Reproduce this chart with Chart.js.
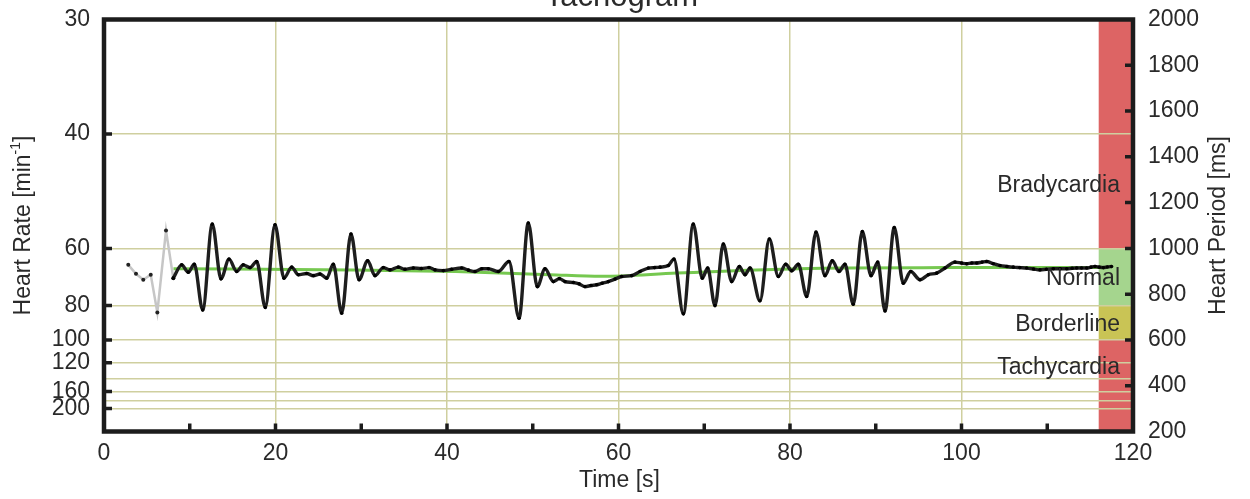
<!DOCTYPE html>
<html>
<head>
<meta charset="utf-8">
<script src="https://cdn.jsdelivr.net/npm/chart.js@4.4.1/dist/chart.umd.min.js"></script>
<style>
html,body{margin:0;padding:0;background:#ffffff;}
canvas{display:block;}
</style>
</head>
<body>
<canvas id="c" width="1250" height="499"></canvas>
<script>
// ---------- texts ----------
const titleText = 'Tachogram';
const xTitle = 'Time [s]';
const leftTitle = 'Heart Rate [min';
const leftTitleSup = '-1';
const rightTitle = 'Heart Period [ms]';

// ---------- data ----------
// first (grey) beats
const preTime   = [2.83, 3.73, 4.58, 5.45, 6.22, 7.23, 8.08];
const prePeriod = [928, 889, 863, 885, 720, 1078, 870];

// tachogram beats
const beatTime = [8.08,9.06,9.83,10.53,11.51,12.63,13.64,14.58,15.48,16.24,17.03,17.81,18.81,19.94,20.99,21.89,22.66,23.64,24.41,25.19,25.97,26.74,27.72,28.80,29.74,30.75,31.60,32.57,33.35,34.32,35.10,36.07,37.0,37.9,38.60,39.57,40.55,41.71,42.5,43.27,44.05,44.82,45.98,47.23,48.40,49.48,50.53,51.43,52.40,53.1,53.76,54.73,55.4,56.09,56.8,57.46,58.1,58.81,59.6,60.37,61.54,62.51,63.48,64.2,64.85,65.81,66.47,67.56,68.72,69.77,70.40,71.25,72.22,73.20,74.09,74.75,75.34,76.50,77.59,78.64,79.50,80.20,80.97,81.95,83.03,84.08,84.93,85.71,86.41,87.38,88.43,89.45,90.23,91.08,92.16,93.21,94.08,95.16,96.13,97.11,98.08,99.24,100.0,100.61,101.2,101.77,102.4,102.94,103.7,104.49,105.3,106.04,106.8,107.60,108.4,109.15,109.9,110.71,111.5,112.27,112.9,113.43,114.0,114.60,115.1,115.57,116.05,116.54,117.0,117.5];
const beatPeriod = [870,928,896,931,731,1106,867,953,899,928,916,943,742,1103,870,918,885,890,881,888,870,931,717,1063,863,946,881,916,906,918,909,914,912,916,906,903,909,914,905,899,911,911,899,943,695,1111,833,911,855,868,855,851,845,833,838,841,848,855,866,877,881,899,914,916,918,925,953,714,1106,870,914,750,1019,855,921,885,914,771,1041,877,931,902,931,790,1071,881,946,899,931,756,1074,881,940,727,1091,848,899,863,885,892,914,940,936,933,936,936,940,943,933,925,921,918,916,914,910,906,909,911,911,911,913,914,914,914,918,921,918,916,919,921];

// trend
const trendTime   = [8.1, 29, 41, 52, 58, 66.8, 75, 86.4, 98, 116];
const trendPeriod = [911, 906, 899, 885, 878, 892, 904, 914, 916, 917];

// ticks
const xTicks = [0, 20, 40, 60, 80, 100, 120];
const xMinorTicks = [10, 20, 30, 40, 50, 60, 70, 80, 90, 100, 110];
const hrLabels = [30, 40, 60, 80, 100, 120, 160, 200];
const hrGrid = [40, 60, 80, 100, 120, 140, 160, 180, 200];
const periodTicks = [200, 400, 600, 800, 1000, 1200, 1400, 1600, 1800, 2000];

// zones
const zoneNames = ['Bradycardia', 'Normal', 'Borderline', 'Tachycardia'];
const zoneFrom  = [1000, 750, 600, 200];
const zoneTo    = [2000, 1000, 750, 600];
const zoneStart = 116;
const zoneEnd   = 120;

// ---------- styles ----------
const FONT = "'Liberation Sans', Arial, Helvetica, sans-serif";
const TEXT = '#2a2a2a';
const GRID = '#cfcf9f';
const zoneColors = ['#dd6464', '#a5d58e', '#c9c455', '#dd6464'];
const zoneLabelMs = [1245, 838, 641, 452]; // label baselines (ms)

const pts = (xs, ys) => xs.map((x, i) => ({x: x, y: ys[i]}));

const zonesPlugin = {
  id: 'zones',
  beforeDraw(chart) {
    const {ctx} = chart;
    const xs = chart.scales.x, ys = chart.scales.yR;
    ctx.save();
    for (let i = 0; i < zoneNames.length; i++) {
      const x0 = xs.getPixelForValue(zoneStart), x1 = xs.getPixelForValue(zoneEnd);
      const y0 = ys.getPixelForValue(zoneTo[i]), y1 = ys.getPixelForValue(zoneFrom[i]);
      ctx.fillStyle = zoneColors[i];
      ctx.fillRect(x0, y0, x1 - x0, y1 - y0);
    }
    ctx.restore();
  },
  afterDatasetsDraw(chart) {
    const {ctx, chartArea: a} = chart;
    const xs = chart.scales.x, ys = chart.scales.yR, yl = chart.scales.yL;
    ctx.save();
    // zone labels
    ctx.font = '23px ' + FONT;
    ctx.fillStyle = TEXT;
    ctx.textAlign = 'right';
    ctx.textBaseline = 'alphabetic';
    for (let i = 0; i < zoneNames.length; i++) {
      ctx.fillText(zoneNames[i], a.right - 13, ys.getPixelForValue(zoneLabelMs[i]));
    }
    // frame
    ctx.strokeStyle = '#1c1c1c';
    ctx.lineWidth = 4.5;
    ctx.strokeRect(a.left, a.top, a.right - a.left, a.bottom - a.top);
    // inward tick marks
    ctx.lineWidth = 3.5;
    ctx.beginPath();
    hrLabels.forEach(hr => {
      if (hr === 30) return;
      const y = yl.getPixelForValue(60000 / hr);
      ctx.moveTo(a.left, y); ctx.lineTo(a.left + 8, y);
    });
    periodTicks.forEach(p => {
      if (p === 200 || p === 2000) return;
      const y = ys.getPixelForValue(p);
      ctx.moveTo(a.right, y); ctx.lineTo(a.right - 8, y);
    });
    xMinorTicks.forEach(t => {
      const x = xs.getPixelForValue(t);
      ctx.moveTo(x, a.bottom); ctx.lineTo(x, a.bottom - 8);
    });
    ctx.stroke();
    // titles
    ctx.fillStyle = TEXT;
    ctx.font = '23px ' + FONT;
    ctx.textAlign = 'center';
    ctx.textBaseline = 'middle';
    ctx.fillText(xTitle, (a.left + a.right) / 2 + 1, 481);
    ctx.font = '31px ' + FONT;
    ctx.textBaseline = 'alphabetic';
    ctx.fillText(titleText, (a.left + a.right) / 2 + 3, 6);
    // left title with superscript
    const cy = (a.top + a.bottom) / 2;
    ctx.save();
    ctx.translate(24, cy);
    ctx.rotate(-Math.PI / 2);
    ctx.font = '23px ' + FONT;
    const w1 = ctx.measureText(leftTitle).width;
    ctx.font = '14px ' + FONT;
    const w2 = ctx.measureText(leftTitleSup).width;
    ctx.font = '23px ' + FONT;
    const w3 = ctx.measureText(']').width;
    const total = w1 + w2 + w3;
    let sx = -total / 2;
    ctx.textAlign = 'left';
    ctx.textBaseline = 'middle';
    ctx.fillText(leftTitle, sx, 0);
    ctx.font = '14px ' + FONT;
    ctx.fillText(leftTitleSup, sx + w1, -8);
    ctx.font = '23px ' + FONT;
    ctx.fillText(']', sx + w1 + w2, 0);
    ctx.restore();
    // right title
    ctx.save();
    ctx.translate(1219, cy);
    ctx.rotate(-Math.PI / 2);
    ctx.font = '23px ' + FONT;
    ctx.textAlign = 'center';
    ctx.textBaseline = 'middle';
    ctx.fillText(rightTitle, 0, 0);
    ctx.restore();
    ctx.restore();
  }
};

const blackData = pts(beatTime, beatPeriod);
const greyData = pts(preTime, prePeriod);
const trendData = pts(trendTime, trendPeriod);

new Chart(document.getElementById('c'), {
  type: 'line',
  data: {
    datasets: [
      {
        data: blackData,
        borderColor: '#1e1e1e',
        borderWidth: 3.4,
        pointRadius: 1.8,
        pointBackgroundColor: '#000',
        pointBorderWidth: 0,
        cubicInterpolationMode: 'monotone',
        xAxisID: 'x', yAxisID: 'yR'
      },
      {
        data: greyData,
        borderColor: '#c6c6c6',
        borderWidth: 2.5,
        pointRadius: 2,
        pointBackgroundColor: '#222',
        pointBorderWidth: 0,
        tension: 0,
        xAxisID: 'x', yAxisID: 'yR'
      },
      {
        data: trendData,
        borderColor: '#76c850',
        borderWidth: 3,
        pointRadius: 0,
        cubicInterpolationMode: 'monotone',
        xAxisID: 'x', yAxisID: 'yR'
      }
    ]
  },
  options: {
    responsive: false,
    animation: false,
    events: [],
    layout: { autoPadding: false, padding: { top: 19.5, left: 0, right: 0, bottom: 0 } },
    plugins: { legend: { display: false }, title: { display: false }, tooltip: { enabled: false } },
    scales: {
      x: {
        type: 'linear', position: 'bottom', min: 0, max: 120,
        afterBuildTicks: s => { s.ticks = xTicks.map(v => ({value: v})); },
        afterFit: s => { s.height = 67.5; s.paddingLeft = 0; s.paddingRight = 0; },
        grid: { drawTicks: false, color: c => (c.tick && (c.tick.value === 0 || c.tick.value === 120)) ? 'rgba(0,0,0,0)' : GRID, lineWidth: 1.5 },
        border: { display: false },
        ticks: { padding: 8, color: TEXT, font: { family: FONT, size: 23 }, maxRotation: 0, autoSkip: false }
      },
      yL: {
        type: 'linear', position: 'left', min: 200, max: 2000,
        afterBuildTicks: s => {
          const vals = Array.from(new Set(hrLabels.concat(hrGrid))).sort((a, b) => a - b);
          s.ticks = vals.map(hr => ({value: 60000 / hr}));
        },
        afterFit: s => { s.width = 104; s.paddingTop = 0; s.paddingBottom = 0; },
        grid: { drawTicks: false, color: c => (c.tick && c.tick.value >= 1999) ? 'rgba(0,0,0,0)' : GRID, lineWidth: 1.5 },
        border: { display: false },
        ticks: {
          padding: 14, color: TEXT, font: { family: FONT, size: 23 }, autoSkip: false,
          callback: v => { const hr = Math.round(60000 / v); return hrLabels.includes(hr) ? String(hr) : ''; }
        }
      },
      yR: {
        type: 'linear', position: 'right', min: 200, max: 2000,
        afterBuildTicks: s => { s.ticks = periodTicks.map(v => ({value: v})); },
        afterFit: s => { s.width = 117; s.paddingTop = 0; s.paddingBottom = 0; },
        grid: { display: false, drawTicks: false },
        border: { display: false },
        ticks: { padding: 15, color: TEXT, font: { family: FONT, size: 23 }, autoSkip: false, callback: v => String(v) }
      }
    }
  },
  plugins: [zonesPlugin]
});
</script>
</body>
</html>
